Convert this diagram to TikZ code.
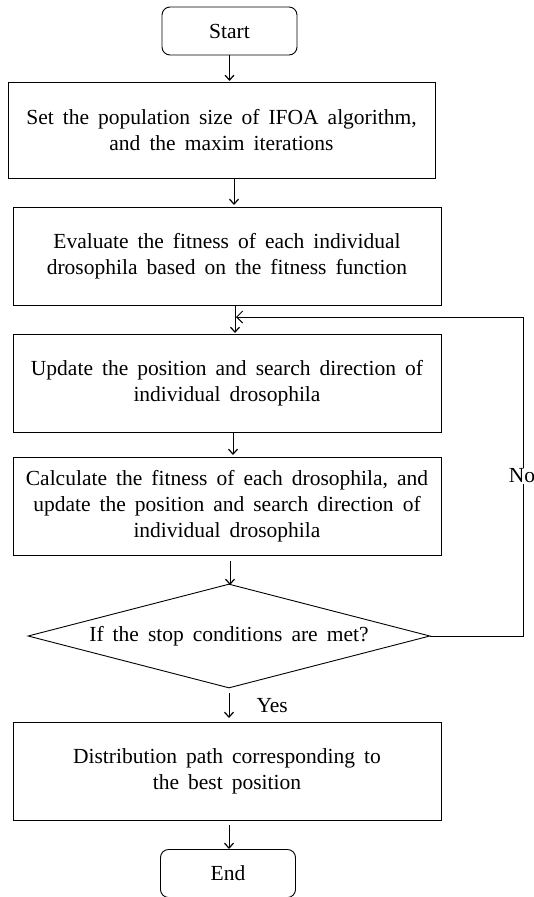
\documentclass[tikz,border=0pt]{standalone}
\usepackage{fontspec}
\setmainfont{Liberation Serif}
\usetikzlibrary{arrows.meta,shapes.geometric}
\newcommand{\reffont}{\fontsize{21.5}{26}\selectfont\spaceskip=0.42em plus 0.1em minus 0.05em\relax}
\begin{document}
\begin{tikzpicture}[x=1pt,y=-1pt,
  procbox/.style={draw, line width=0.9pt, minimum width=428pt, minimum height=98pt, align=center, font=\reffont, inner sep=0pt},
  termbox/.style={draw, line width=0.9pt, rounded corners=8pt, minimum width=135pt, minimum height=48pt, font=\reffont},
  flow/.style={draw, line width=1pt, -{Straight Barb[length=5pt,width=9pt,line width=1.2pt]}},
  loopline/.style={draw, line width=0.9pt, -{Straight Barb[length=6pt,width=12pt]}},
  lbl/.style={font=\reffont}]
\useasboundingbox (0,0) rectangle (534,897);
\node[termbox] (start) at (229.5,31) {Start};
\node[procbox, minimum width=427pt, minimum height=96pt] (b1) at (221.5,130) {Set the population size of IFOA algorithm,\\and the maxim iterations};
\node[procbox] (b2) at (227,256) {Evaluate the fitness of each individual\\drosophila based on the fitness function};
\node[procbox] (b3) at (227,383.5) {Update the position and search direction of\\individual drosophila};
\node[procbox] (b4) at (227,506.5) {Calculate the fitness of each drosophila, and\\update the position and search direction of\\individual drosophila};
\node[draw, line width=0.9pt, diamond, aspect=3.87, minimum width=402pt, minimum height=104pt, inner sep=0pt, font=\reffont] (d) at (229,636) {If the stop conditions are met?};
\node[procbox] (b5) at (227,771) {Distribution path corresponding to\\the best position};
\node[termbox] (end) at (228,873.5) {End};
\coordinate (c1) at (523,636);
\coordinate (c2) at (523,317);
\coordinate (c3) at (236,317);
\draw[flow] (start.south) -- (start.south |- 0,81);
\draw[flow] (234,178) coordinate (a1) -- (234,205);
\draw[flow] (235,305) coordinate (a2) -- (235,333);
\draw[flow] (233,433) coordinate (a3) -- (233,455);
\draw[flow] (230,561) coordinate (a4) -- (230,585);
\draw[flow] (229,693) coordinate (a5) -- (229,718);
\draw[flow] (229,825) coordinate (a6) -- (229,849);
\draw[loopline] (d.east) -- (c1) -- (c2) -- (c3);
\node[lbl, fill=white, inner sep=1pt] (no) at (522,476) {No};
\node[lbl, anchor=west] (yes) at (253,706) {Yes};
\end{tikzpicture}
\end{document}
